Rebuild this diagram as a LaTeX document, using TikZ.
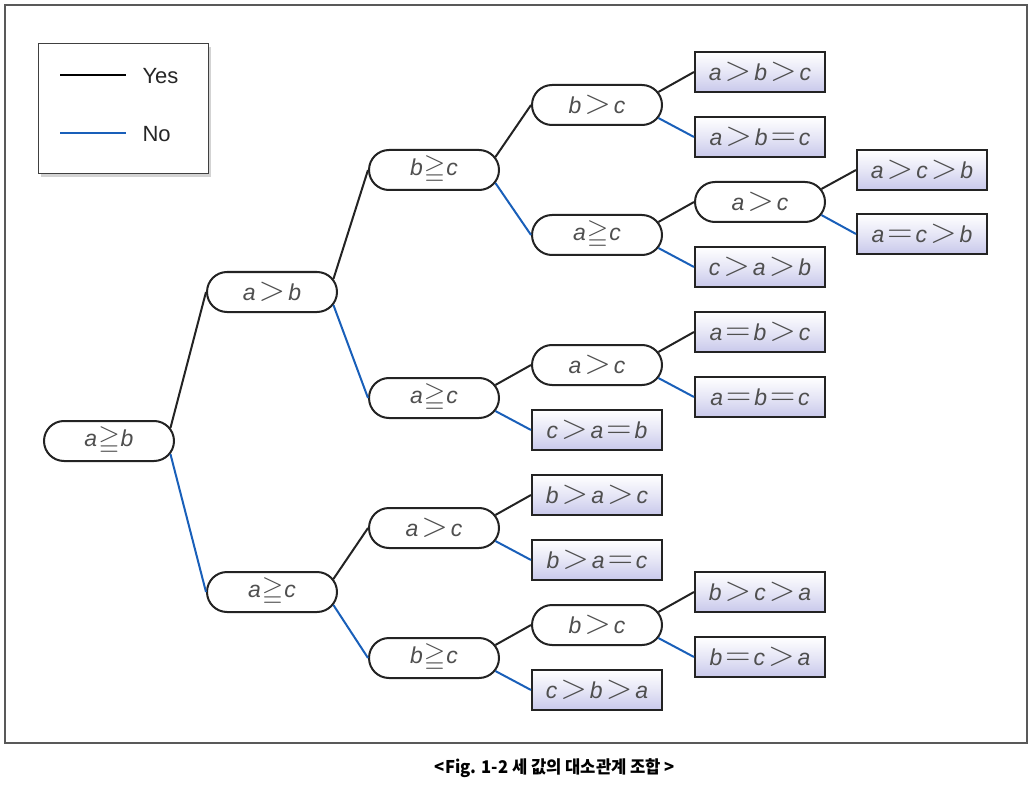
\documentclass[tikz,border=0pt]{standalone}
\usepackage{fontspec}
\usepackage{amssymb}
\usepackage{graphicx}
\setmainfont{Liberation Sans}
\newfontfamily\krfont{Noto Sans CJK KR}
\usetikzlibrary{shapes.misc,shadows}
\definecolor{nobl}{RGB}{25,95,185}
\definecolor{boxlav}{RGB}{200,200,235}
\definecolor{edge}{RGB}{35,35,35}
\newcommand{\vv}[1]{{\itshape #1}}
\newcommand{\GT}{\kern3pt\raisebox{-0.5pt}{\scalebox{1.4}{$>$}}\kern3pt}
\newcommand{\EQ}{\kern3pt\raisebox{-0.5pt}{\scalebox{1.4}{$=$}}\kern3pt}
\newcommand{\GE}{\kern1pt\raisebox{-1pt}{\scalebox{1.2}{$\geqq$}}\kern1pt}
\begin{document}
\begin{tikzpicture}[x=1pt,y=-1pt,
  font=\fontsize{23}{26}\selectfont\color{edge!80},
  pill/.style={rounded rectangle, draw=edge, line width=2pt, fill=white,
    minimum width=130pt, minimum height=40pt, inner sep=0pt},
  res/.style={rectangle, draw=edge, line width=2pt,
    top color=white, bottom color=boxlav, middle color=white!55!boxlav,
    minimum width=130pt, minimum height=40pt, inner sep=0pt},
  yes/.style={line width=2pt, draw=edge},
  no/.style={line width=2pt, draw=nobl}]
\useasboundingbox (0,0) rectangle (1030,794);
\draw[line width=1.3pt, draw=black!65] (5,5) rectangle (1027,743);
% legend
\node[draw=black!75, line width=1pt, fill=white, minimum width=170pt, minimum height=130pt,
  drop shadow={shadow xshift=3pt, shadow yshift=-3pt, opacity=0.35}] (leg) at (123,109) {};
\coordinate (ly1) at (60,75); \coordinate (ly2) at (126,75);
\coordinate (ln1) at (60,133); \coordinate (ln2) at (126,133);
\draw[line width=2pt, black] (ly1) -- (ly2);
\draw[line width=2pt, nobl] (ln1) -- (ln2);
\node[anchor=west, font=\fontsize{22}{25}\selectfont, text=black!85] (lyes) at (139,76) {Yes};
\node[anchor=west, font=\fontsize{22}{25}\selectfont, text=black!85] (lno) at (139,134) {No};
% level 0-1
\node[pill] (n0) at (109,441) {\vv{a}\GE\vv{b}};
\node[pill] (n1) at (272,292) {\vv{a}\GT\vv{b}};
\node[pill] (n2) at (272,592) {\vv{a}\GE\vv{c}};
% level 2
\node[pill] (n11) at (434,170) {\vv{b}\GE\vv{c}};
\node[pill] (n12) at (434,398) {\vv{a}\GE\vv{c}};
\node[pill] (n21) at (434,528) {\vv{a}\GT\vv{c}};
\node[pill] (n22) at (434,658) {\vv{b}\GE\vv{c}};
% level 3
\node[pill] (n111) at (597,105) {\vv{b}\GT\vv{c}};
\node[pill] (n112) at (597,235) {\vv{a}\GE\vv{c}};
\node[pill] (n121) at (597,365) {\vv{a}\GT\vv{c}};
\node[res]  (r122) at (597,430) {\vv{c}\GT\vv{a}\EQ\vv{b}};
\node[res]  (r211) at (597,495) {\vv{b}\GT\vv{a}\GT\vv{c}};
\node[res]  (r212) at (597,560) {\vv{b}\GT\vv{a}\EQ\vv{c}};
\node[pill] (n221) at (597,625) {\vv{b}\GT\vv{c}};
\node[res]  (r222) at (597,690) {\vv{c}\GT\vv{b}\GT\vv{a}};
% level 4
\node[res]  (r1111) at (760,72) {\vv{a}\GT\vv{b}\GT\vv{c}};
\node[res]  (r1112) at (760,137) {\vv{a}\GT\vv{b}\EQ\vv{c}};
\node[pill] (n1121) at (760,202) {\vv{a}\GT\vv{c}};
\node[res]  (r1122) at (760,267) {\vv{c}\GT\vv{a}\GT\vv{b}};
\node[res]  (r1211) at (760,332) {\vv{a}\EQ\vv{b}\GT\vv{c}};
\node[res]  (r1212) at (760,397) {\vv{a}\EQ\vv{b}\EQ\vv{c}};
\node[res]  (r2211) at (760,592) {\vv{b}\GT\vv{c}\GT\vv{a}};
\node[res]  (r2212) at (760,657) {\vv{b}\EQ\vv{c}\GT\vv{a}};
% level 5
\node[res]  (r11211) at (922,170) {\vv{a}\GT\vv{c}\GT\vv{b}};
\node[res]  (r11212) at (922,234) {\vv{a}\EQ\vv{c}\GT\vv{b}};
% connectors
\foreach \p/\y/\n in {n0/n1/n2, n1/n11/n12, n2/n21/n22, n11/n111/n112, n12/n121/r122,
  n21/r211/r212, n22/n221/r222, n111/r1111/r1112, n112/n1121/r1122, n121/r1211/r1212,
  n221/r2211/r2212, n1121/r11211/r11212}{
  \draw[yes] (\p.12) -- (\y.west);
  \draw[no] (\p.-12) -- (\n.west);
}
% caption
\node[font=\krfont\bfseries\fontsize{17.5}{20}\selectfont, text=black] (cap) at (555,768)
  {\scalebox{0.95}[1]{<Fig. 1-2 세 값의 대소관계 조합 >}};
\end{tikzpicture}
\end{document}
